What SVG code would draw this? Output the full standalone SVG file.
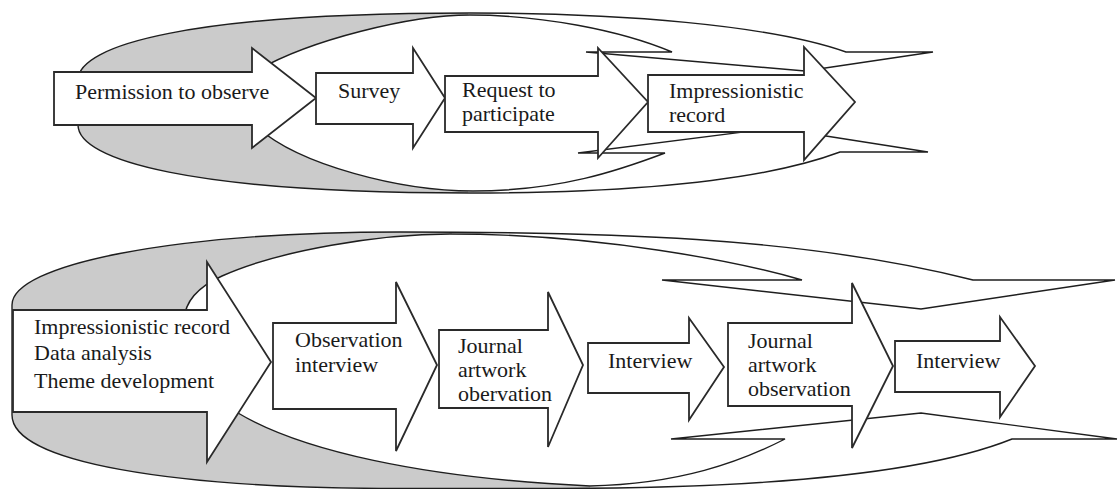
<svg xmlns="http://www.w3.org/2000/svg" width="1119" height="489" viewBox="0 0 1119 489">
<defs>
<style>
.band{fill:#ffffff;stroke:none}
.bandline{fill:none;stroke:#1e1e1e;stroke-width:1.4;stroke-linejoin:miter}
.shade{fill:#cbcbcb}
.arrow{fill:#ffffff;stroke:#2a2a2a;stroke-width:1.8;stroke-linejoin:miter}
.lbl{font-family:"Liberation Serif","Times New Roman",serif;font-size:22px;fill:#1a1a1a}
</style>
<clipPath id="clipTop">
<path d="M 846,52 L 933,52 L 805,71 L 586,52 L 672,52 C 620,30 540,15 470,15 C 410,15 310,40 258,70 C 240,80 240,118 258,128 C 300,165 400,191 473,191 C 560,191 620,170 665,153 L 578,153 L 775,128 L 928,152 L 840,152 C 760,182 620,193 470,193 C 190,193 78,160 78,125 L 78,80 C 78,45 190,13 470,13 C 620,13 770,25 846,52 Z"/>
</clipPath>
<clipPath id="clipBot">
<path d="M 973,280 L 1115,280 L 921,309 L 662,280 L 802,280 C 740,262 600,234 450,234 C 380,234 280,250 222,276 C 200,286 185,300 184,320 C 183,360 200,400 238,413 C 300,450 420,478 590,486 C 680,484 740,462 785,439 L 671,439 L 921,413 L 1117,439 L 1012,439 C 930,472 780,488 560,488.5 L 400,488.5 C 170,488.5 12,462 12,415 L 12,305 C 12,265 170,232 400,232 C 600,232 800,236 973,280 Z"/>
</clipPath>
</defs>

<g id="band-top">
<path class="band" d="M 846,52 L 933,52 L 805,71 L 586,52 L 672,52 C 620,30 540,15 470,15 C 410,15 310,40 258,70 C 240,80 240,118 258,128 C 300,165 400,191 473,191 C 560,191 620,170 665,153 L 578,153 L 775,128 L 928,152 L 840,152 C 760,182 620,193 470,193 C 190,193 78,160 78,125 L 78,80 C 78,45 190,13 470,13 C 620,13 770,25 846,52 Z"/>
<rect class="shade" x="0" y="0" width="468" height="210" clip-path="url(#clipTop)"/>
<path class="bandline" d="M 846,52 L 933,52 L 805,71 L 586,52 L 672,52 C 620,30 540,15 470,15 C 410,15 310,40 258,70 C 240,80 240,118 258,128 C 300,165 400,191 473,191 C 560,191 620,170 665,153 L 578,153 L 775,128 L 928,152 L 840,152 C 760,182 620,193 470,193 C 190,193 78,160 78,125 L 78,80 C 78,45 190,13 470,13 C 620,13 770,25 846,52 Z"/>
</g>

<g id="band-bottom">
<path class="band" d="M 973,280 L 1115,280 L 921,309 L 662,280 L 802,280 C 740,262 600,234 450,234 C 380,234 280,250 222,276 C 200,286 185,300 184,320 C 183,360 200,400 238,413 C 300,450 420,478 590,486 C 680,484 740,462 785,439 L 671,439 L 921,413 L 1117,439 L 1012,439 C 930,472 780,488 560,488.5 L 400,488.5 C 170,488.5 12,462 12,415 L 12,305 C 12,265 170,232 400,232 C 600,232 800,236 973,280 Z"/>
<polygon class="shade" points="0,220 452,220 452,360 590,360 590,489 0,489" clip-path="url(#clipBot)"/>
<path class="bandline" d="M 973,280 L 1115,280 L 921,309 L 662,280 L 802,280 C 740,262 600,234 450,234 C 380,234 280,250 222,276 C 200,286 185,300 184,320 C 183,360 200,400 238,413 C 300,450 420,478 590,486 C 680,484 740,462 785,439 L 671,439 L 921,413 L 1117,439 L 1012,439 C 930,472 780,488 560,488.5 L 400,488.5 C 170,488.5 12,462 12,415 L 12,305 C 12,265 170,232 400,232 C 600,232 800,236 973,280 Z"/>
</g>

<g id="connectors"></g>

<g id="node-permission">
<polygon class="arrow" points="54,72 252,72 252,48 316,98 252,148 252,125 54,125"/>
<text class="lbl" x="75" y="99">Permission to observe</text>
</g>
<g id="node-survey">
<polygon class="arrow" points="316,73 413,73 413,48 445,98 413,148 413,124 316,124"/>
<text class="lbl" x="338" y="98">Survey</text>
</g>
<g id="node-request">
<polygon class="arrow" points="445,76 598,76 598,48 648,102 598,158 598,132 445,132"/>
<text class="lbl" x="462" y="97">Request to</text>
<text class="lbl" x="462" y="121">participate</text>
</g>
<g id="node-impressionistic-top">
<polygon class="arrow" points="648,75 804,75 804,47 855,102 804,160 804,132 648,132"/>
<text class="lbl" x="669" y="98">Impressionistic</text>
<text class="lbl" x="669" y="122">record</text>
</g>

<g id="node-analysis">
<polygon class="arrow" points="13,310 207,310 207,262 271,362 207,462 207,412 13,412"/>
<text class="lbl" x="34" y="334">Impressionistic record</text>
<text class="lbl" x="34" y="360">Data analysis</text>
<text class="lbl" x="34" y="388">Theme development</text>
</g>
<g id="node-observation">
<polygon class="arrow" points="273,323 396,323 396,282 437,365 396,451 396,409 273,409"/>
<text class="lbl" x="295" y="347">Observation</text>
<text class="lbl" x="295" y="372">interview</text>
</g>
<g id="node-journal1">
<polygon class="arrow" points="439,330 548,330 548,292 583,365 548,447 548,408 439,408"/>
<text class="lbl" x="458" y="353">Journal</text>
<text class="lbl" x="458" y="377">artwork</text>
<text class="lbl" x="458" y="401">obervation</text>
</g>
<g id="node-interview1">
<polygon class="arrow" points="588,343 689,343 689,318 724,367 689,420 689,393 588,393"/>
<text class="lbl" x="608" y="368">Interview</text>
</g>
<g id="node-journal2">
<polygon class="arrow" points="728,323 852,323 852,283 893,366 852,448 852,406 728,406"/>
<text class="lbl" x="748" y="348">Journal</text>
<text class="lbl" x="748" y="372">artwork</text>
<text class="lbl" x="748" y="396">observation</text>
</g>
<g id="node-interview2">
<polygon class="arrow" points="895,341 1000,341 1000,317 1035,366 1000,417 1000,392 895,392"/>
<text class="lbl" x="916" y="368">Interview</text>
</g>
</svg>
